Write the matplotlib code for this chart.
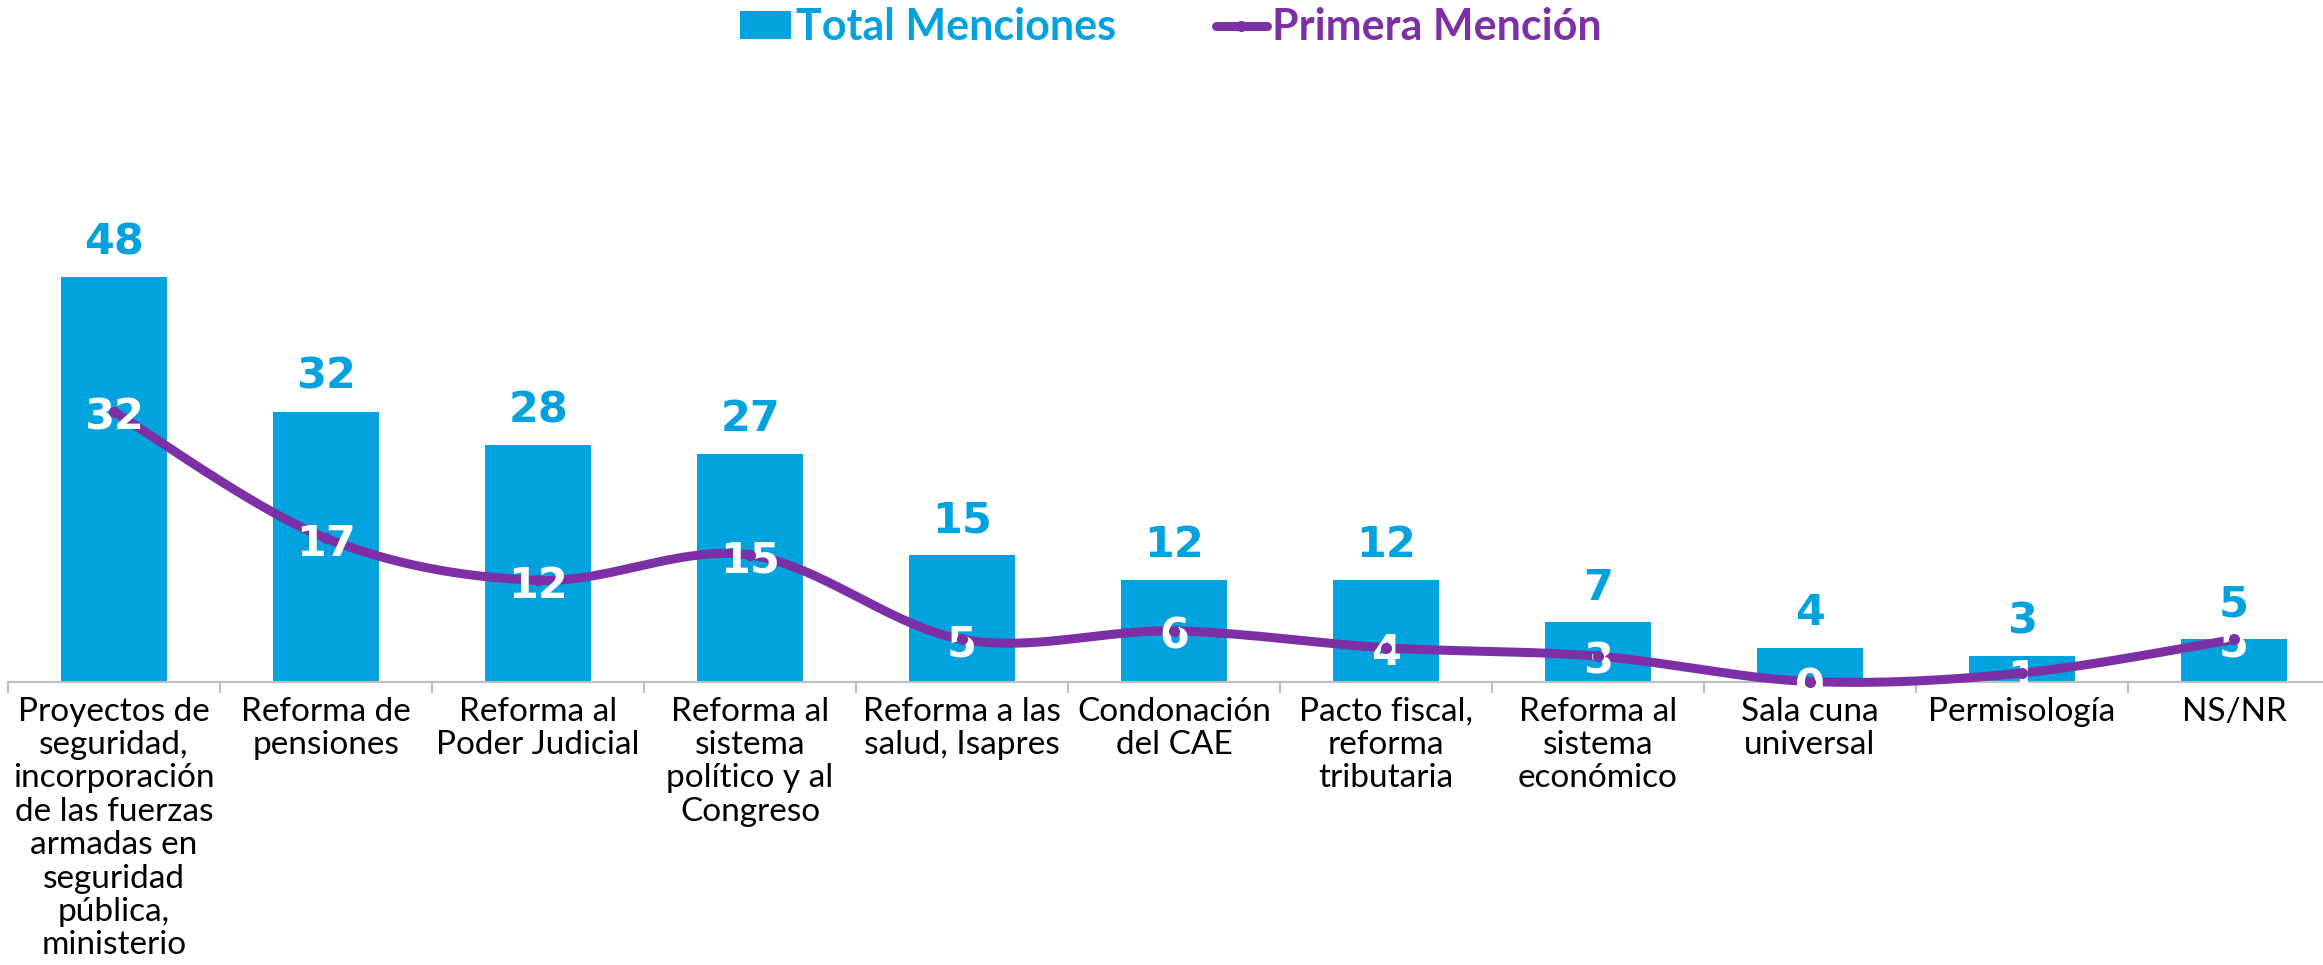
import numpy as np
import matplotlib
matplotlib.use("Agg")
import matplotlib.pyplot as plt
from matplotlib.patches import Patch
from matplotlib.lines import Line2D

categories = [
    "Proyectos de\nseguridad,\nincorporación\nde las fuerzas\narmadas en\nseguridad\npública,\nministerio",
    "Reforma de\npensiones",
    "Reforma al\nPoder Judicial",
    "Reforma al\nsistema\npolítico y al\nCongreso",
    "Reforma a las\nsalud, Isapres",
    "Condonación\ndel CAE",
    "Pacto fiscal,\nreforma\ntributaria",
    "Reforma al\nsistema\neconómico",
    "Sala cuna\nuniversal",
    "Permisología",
    "NS/NR",
]
total_menciones = [48, 32, 28, 27, 15, 12, 12, 7, 4, 3, 5]
primera_mencion = [32, 17, 12, 15, 5, 6, 4, 3, 0, 1, 5]

BLUE = "#02A2DF"
PURPLE = "#7D2FA6"
FONT = "Lato"
NUMFONT = "DejaVu Sans"

W, H = 2323, 965
fig = plt.figure(figsize=(W / 100, H / 100), dpi=100)
ax = fig.add_axes([8 / W, 1 - 681.5 / H, 2332 / W, 463.6 / H])

x = np.arange(len(categories))
ax.bar(x, total_menciones, width=0.5, color=BLUE, zorder=2)

# smoothed line (Bezier through points, Excel-like smoothing)
px = x.astype(float)
py = np.array(primera_mencion, dtype=float)
n = len(px)
sx, sy = [], []
t = np.linspace(0, 1, 40)
for i in range(n - 1):
    i0, i3 = max(i - 1, 0), min(i + 2, n - 1)
    p0 = np.array([px[i], py[i]])
    p3 = np.array([px[i + 1], py[i + 1]])
    c1 = p0 + (np.array([px[i + 1], py[i + 1]]) - np.array([px[i0], py[i0]])) / 6
    c2 = p3 - (np.array([px[i3], py[i3]]) - np.array([px[i], py[i]])) / 6
    b = ((1 - t) ** 3)[:, None] * p0 + (3 * (1 - t) ** 2 * t)[:, None] * c1 \
        + (3 * (1 - t) * t ** 2)[:, None] * c2 + (t ** 3)[:, None] * p3
    sx.extend(b[:, 0]); sy.extend(b[:, 1])
ax.plot(sx, sy, color=PURPLE, lw=6.5, solid_capstyle="round", zorder=3, clip_on=False)

for xi, v in zip(x, total_menciones):
    ax.annotate(str(v), (xi, v), xytext=(0, 10), textcoords="offset points",
                ha="center", va="bottom", color=BLUE, fontsize=31,
                fontweight="bold", family=NUMFONT, zorder=4)
for xi, v in zip(x, primera_mencion):
    ax.annotate(str(v), (xi, v), xytext=(0, -4), textcoords="offset points",
                ha="center", va="center", color="white", fontsize=31,
                fontweight="bold", family=NUMFONT, zorder=4, annotation_clip=False)
ax.plot(px, py, "o", color=PURPLE, ms=7, zorder=5, clip_on=False)

ax.set_xlim(-0.5, len(categories) - 0.5)
ax.set_ylim(0, 55)
for s in ["top", "right", "left"]:
    ax.spines[s].set_visible(False)
ax.spines["bottom"].set_color("#BFBFBF")
ax.spines["bottom"].set_linewidth(1.5)
ax.set_yticks([])
ax.set_xticks(x)
ax.set_xticklabels(categories, fontsize=24, family=FONT, color="#000000", linespacing=1.14)
ax.tick_params(axis="x", which="major", length=0, pad=11)
ax.set_xticks(np.arange(-0.5, len(categories), 1.0), minor=True)
ax.tick_params(axis="x", which="minor", length=8, width=1.5, color="#BFBFBF")

handles = [Patch(facecolor=BLUE, edgecolor="none"),
           Line2D([0], [0], color=PURPLE, lw=6.5, marker="o", ms=7, solid_capstyle="round")]
leg = fig.legend(handles, ["Total Menciones", "Primera Mención"], loc="center",
                 bbox_to_anchor=(0.504, 0.972), ncol=2, frameon=False,
                 prop={"family": FONT, "weight": "bold", "size": 31},
                 handlelength=1.2, handleheight=0.6, handletextpad=0.12,
                 columnspacing=2.3, borderpad=0)
for txt, c in zip(leg.get_texts(), [BLUE, PURPLE]):
    txt.set_color(c)

fig.savefig("out.png", dpi=100)
